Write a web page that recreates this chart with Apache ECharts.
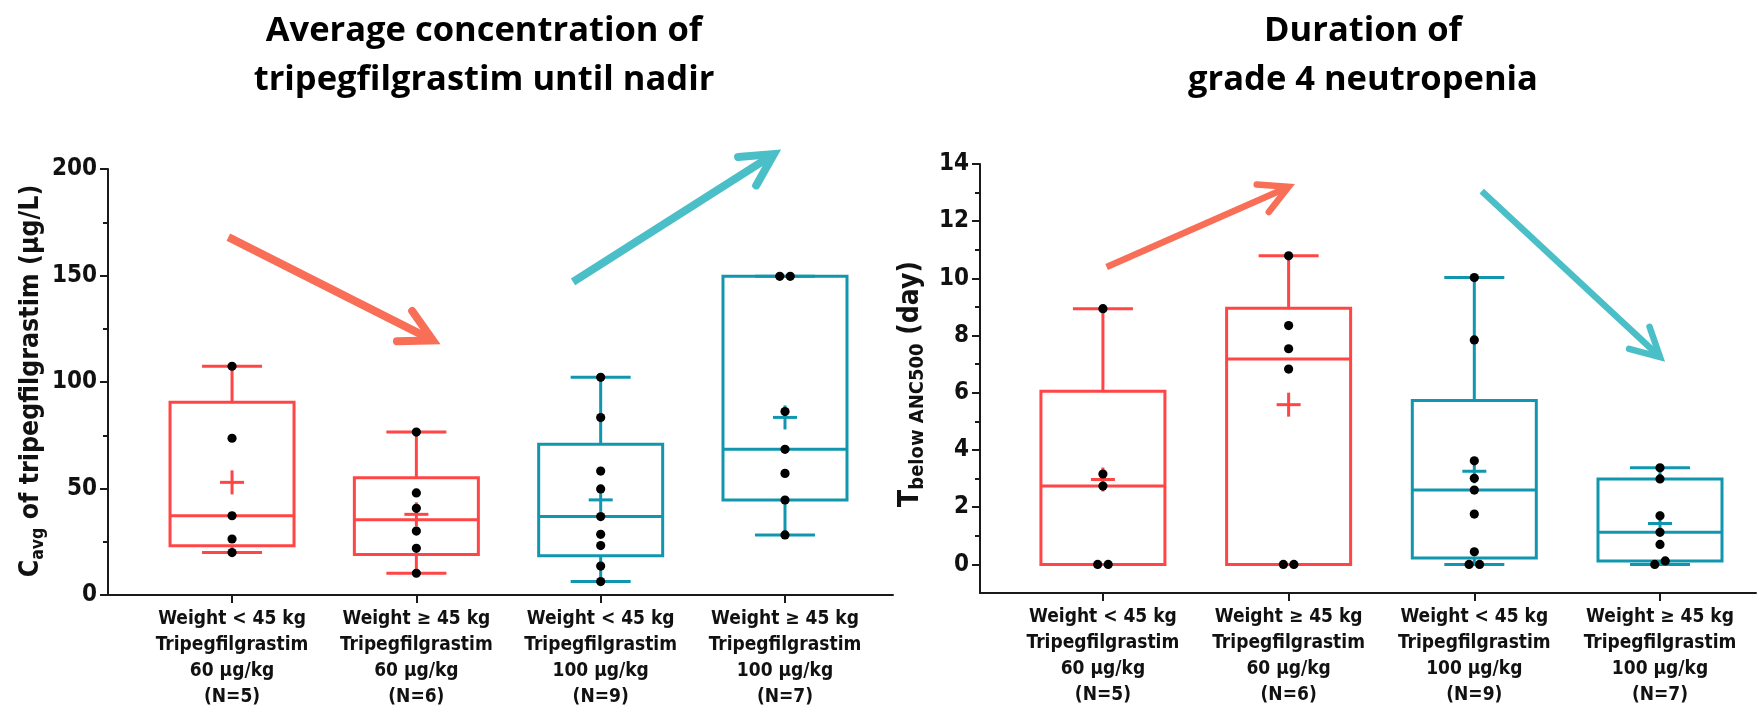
<!DOCTYPE html>
<html>
<head>
<meta charset="utf-8">
<title>Tripegfilgrastim exposure and neutropenia by weight group</title>
<script src="https://cdn.jsdelivr.net/npm/echarts@6/dist/echarts.min.js"></script>
<style>
  html, body { margin: 0; padding: 0; background: #fff; }
  #chart { width: 1763px; height: 706px; }
</style>
</head>
<body>
<div id="chart"></div>
<script>
// ---- Groups (shared by both panels) ----
const groupWeights = ['Weight < 45 kg', 'Weight \u2265 45 kg', 'Weight < 45 kg', 'Weight \u2265 45 kg'];
const groupDrug = 'Tripegfilgrastim';
const groupDoses = ['60 \u03bcg/kg', '60 \u03bcg/kg', '100 \u03bcg/kg', '100 \u03bcg/kg'];
const groupColors = ['#FF4545', '#FF4545', '#1097AF', '#1097AF'];

// ---- Panel A: average concentration until nadir, Cavg (μg/L), one value per patient ----
const cavg60Light = [107.4, 73.6, 37.2, 26.3, 19.9];
const cavg60Heavy = [76.5, 47.9, 40.7, 30.0, 21.9, 10.2];
const cavg100Light = [102.2, 83.3, 58.2, 49.8, 36.8, 28.5, 23.2, 13.6, 6.3];
const cavg100Heavy = [149.6, 149.6, 86.1, 68.4, 57.1, 44.6, 28.2];
const cavgTicks = [0, 50, 100, 150, 200];

// ---- Panel B: duration of grade 4 neutropenia, T below ANC500 (day) ----
const dur60Light = [8.94, 3.16, 2.74, 0, 0];
const dur60Heavy = [10.79, 8.35, 7.54, 6.83, 0, 0];
const dur100Light = [10.03, 7.85, 3.62, 3.01, 2.60, 1.76, 0.44, 0, 0];
const dur100Heavy = [3.38, 2.99, 1.70, 1.12, 0.70, 0.12, 0];
const durTicks = [0, 2, 4, 6, 8, 10, 12, 14];
const durMinorTicks = [1, 3, 5, 7, 9, 11, 13];

// Trend arrows, endpoints in each panel's data space [group position, value]
const cavgArrows = [
  { from: [-0.02, 168], to: [1.09, 119.5], color: '#F86E57' },
  { from: [1.85, 147], to: [2.94, 207], color: '#4BBFC8' }
];
const durArrows = [
  { from: [0.02, 10.4], to: [1.0, 13.2], color: '#F86E57' },
  { from: [2.04, 13.05], to: [3.0, 7.25], color: '#4BBFC8' }
];

const cavgGroups = [cavg60Light, cavg60Heavy, cavg100Light, cavg100Heavy];
const durGroups = [dur60Light, dur60Heavy, dur100Light, dur100Heavy];

const AXIS_FONT = '"DejaVu Sans Condensed", "DejaVu Sans", "Liberation Sans", sans-serif';
const TITLE_FONT = '"Open Sans", Lato, "Noto Sans", sans-serif';

// Quartile with (n+1)p positioning and linear interpolation
function quantile(sorted, p) {
  const n = sorted.length;
  const pos = p * (n + 1);
  if (pos <= 1) return sorted[0];
  if (pos >= n) return sorted[n - 1];
  const lo = Math.floor(pos);
  const frac = pos - lo;
  return sorted[lo - 1] + frac * (sorted[lo] - sorted[lo - 1]);
}

function boxStats(groups) {
  return groups.map((vals, i) => {
    const s = vals.slice().sort((a, b) => a - b);
    const mean = s.reduce((a, b) => a + b, 0) / s.length;
    return [i, s[0], quantile(s, 0.25), quantile(s, 0.5), quantile(s, 0.75), s[s.length - 1], mean];
  });
}

// Points with equal (overlapping) values are spread side by side
function dotItems(groups, tol) {
  const items = [];
  groups.forEach((vals, i) => {
    const s = vals.slice().sort((a, b) => a - b);
    let k = 0;
    while (k < s.length) {
      let j = k;
      while (j + 1 < s.length && s[j + 1] - s[k] < tol) j++;
      const count = j - k + 1;
      for (let m = k; m <= j; m++) items.push([i, s[m], m - k, count]);
      k = j + 1;
    }
  });
  return items;
}

function renderBox(params, api) {
  const i = api.value(0);
  const color = groupColors[i];
  const x = api.coord([i, api.value(3)])[0];
  const py = v => api.coord([i, v])[1];
  const yMin = py(api.value(1)), yQ1 = py(api.value(2)), yMed = py(api.value(3));
  const yQ3 = py(api.value(4)), yMax = py(api.value(5)), yMean = py(api.value(6));
  const hw = 62, cap = 30, cross = 12;
  const st = { stroke: color, lineWidth: 3, fill: 'none' };
  const line = (x1, y1, x2, y2) => ({ type: 'line', shape: { x1, y1, x2, y2 }, style: st });
  return {
    type: 'group',
    children: [
      line(x, yQ3, x, yMax),
      line(x - cap, yMax, x + cap, yMax),
      line(x, yQ1, x, yMin),
      line(x - cap, yMin, x + cap, yMin),
      { type: 'rect', shape: { x: x - hw, y: yQ3, width: 2 * hw, height: yQ1 - yQ3 }, style: st },
      line(x - hw, yMed, x + hw, yMed),
      line(x - cross, yMean, x + cross, yMean),
      line(x, yMean - cross, x, yMean + cross)
    ]
  };
}

function renderDot(params, api) {
  const c = api.coord([api.value(0), api.value(1)]);
  const slot = api.value(2), count = api.value(3);
  const dx = (slot - (count - 1) / 2) * 10.5;
  return { type: 'circle', shape: { cx: c[0] + dx, cy: c[1], r: 4.6 }, style: { fill: '#000' } };
}

function categoryLabel(v, groups) {
  const i = Math.round(v);
  return groupWeights[i] + '\n' + groupDrug + '\n' + groupDoses[i] + '\n(N=' + groups[i].length + ')';
}

const axisLineStyle = { color: '#1a1a1a', width: 2 };

function xAxisFor(gridIndex, min, max, groups) {
  return {
    type: 'value', gridIndex, min, max,
    axisLine: { show: true, onZero: false, lineStyle: axisLineStyle },
    axisTick: { show: true, customValues: [0, 1, 2, 3], length: 8, lineStyle: axisLineStyle },
    axisLabel: {
      customValues: [0, 1, 2, 3],
      formatter: v => categoryLabel(v, groups),
      fontFamily: AXIS_FONT, fontWeight: 'bold', fontSize: 19, lineHeight: 26,
      color: '#111', margin: 11
    },
    splitLine: { show: false }
  };
}

const tickLabel = { fontFamily: AXIS_FONT, fontWeight: 'bold', fontSize: 24, color: '#111', margin: 11 };

const option = {
  animation: false,
  backgroundColor: '#fff',
  grid: [
    { left: 108, right: 870, top: 169, bottom: 111, containLabel: false, outerBoundsMode: 'none' },
    { left: 980, right: 7, top: 164, bottom: 113, containLabel: false, outerBoundsMode: 'none' }
  ],
  xAxis: [
    xAxisFor(0, -0.673, 3.586, cavgGroups),
    xAxisFor(1, -0.662, 3.517, durGroups)
  ],
  yAxis: [
    {
      type: 'value', gridIndex: 0, position: 'left', min: 0, max: 200, interval: 50,
      axisLine: { show: true, onZero: false, lineStyle: axisLineStyle },
      axisTick: { show: true, length: 8, lineStyle: axisLineStyle },
      minorTick: { show: true, splitNumber: 2, length: 5, lineStyle: axisLineStyle },
      axisLabel: Object.assign({ customValues: cavgTicks }, tickLabel),
      splitLine: { show: false }
    },
    {
      type: 'value', gridIndex: 1, position: 'left', min: -1, max: 14,
      axisLine: { show: true, onZero: false, lineStyle: axisLineStyle },
      axisTick: { show: true, customValues: durTicks, length: 8, lineStyle: axisLineStyle },
      axisLabel: Object.assign({ customValues: durTicks }, tickLabel),
      splitLine: { show: false }
    },
    {
      // minor ticks for the duration axis
      type: 'value', gridIndex: 1, position: 'left', min: -1, max: 14,
      axisLine: { show: false, onZero: false },
      axisTick: { show: true, customValues: durMinorTicks, length: 5, lineStyle: axisLineStyle },
      axisLabel: { show: false },
      splitLine: { show: false }
    }
  ],
  series: [
    {
      type: 'custom', xAxisIndex: 0, yAxisIndex: 0, renderItem: renderBox,
      encode: { x: 0, y: [1, 2, 3, 4, 5, 6] }, data: boxStats(cavgGroups), clip: false, z: 2
    },
    {
      type: 'custom', xAxisIndex: 0, yAxisIndex: 0, renderItem: renderDot,
      encode: { x: 0, y: 1 }, data: dotItems(cavgGroups, 4), clip: false, z: 3
    },
    {
      type: 'custom', xAxisIndex: 1, yAxisIndex: 1, renderItem: renderBox,
      encode: { x: 0, y: [1, 2, 3, 4, 5, 6] }, data: boxStats(durGroups), clip: false, z: 2
    },
    {
      type: 'custom', xAxisIndex: 1, yAxisIndex: 1, renderItem: renderDot,
      encode: { x: 0, y: 1 }, data: dotItems(durGroups, 0.3), clip: false, z: 3
    }
  ]
};

const chart = echarts.init(document.getElementById('chart'), null, { renderer: 'canvas' });
chart.setOption(option);

// Open-headed arrow: straight shaft plus a chevron at the tip
function arrowElements(a, gridIndex, width, headLen) {
  const p0 = chart.convertToPixel({ gridIndex }, a.from);
  const p1 = chart.convertToPixel({ gridIndex }, a.to);
  const ang = Math.atan2(p1[1] - p0[1], p1[0] - p0[0]);
  const spread = 28 * Math.PI / 180;
  const arm = d => [p1[0] - headLen * Math.cos(ang + d), p1[1] - headLen * Math.sin(ang + d)];
  const back = [p1[0] - width * 0.7 * Math.cos(ang), p1[1] - width * 0.7 * Math.sin(ang)];
  return [
    { type: 'line', shape: { x1: p0[0], y1: p0[1], x2: back[0], y2: back[1] },
      style: { stroke: a.color, lineWidth: width, lineCap: 'butt' }, z: 10 },
    { type: 'polyline', shape: { points: [arm(-spread), p1, arm(spread)] },
      style: { stroke: a.color, lineWidth: width, lineCap: 'round', lineJoin: 'miter', fill: 'none' }, z: 10 }
  ];
}

const titleStyle = {
  fontFamily: TITLE_FONT, fontWeight: 'bold', fontSize: 34.5, lineHeight: 49,
  fill: '#000', align: 'center', verticalAlign: 'top'
};

const graphics = [
  { type: 'text', x: 484, y: 7, style: Object.assign({ text: 'Average concentration of\ntripegfilgrastim until nadir' }, titleStyle) },
  { type: 'text', x: 1363, y: 7, style: Object.assign({ text: 'Duration of\ngrade 4 neutropenia' }, titleStyle) },
  {
    type: 'text', x: 31, y: 381, rotation: Math.PI / 2,
    style: {
      text: '{m|C}{s|avg}{m| of tripegfilgrastim (\u03bcg/L)}',
      align: 'center', verticalAlign: 'middle',
      rich: {
        m: { fontFamily: AXIS_FONT, fontWeight: 'bold', fontSize: 26.5, lineHeight: 32, fill: '#111' },
        s: { fontFamily: AXIS_FONT, fontWeight: 'bold', fontSize: 17.5, lineHeight: 18, verticalAlign: 'bottom', fill: '#111' }
      }
    }
  },
  {
    type: 'text', x: 911, y: 384, rotation: Math.PI / 2,
    style: {
      text: '{m|T}{s|below ANC500}{m| (day)}',
      align: 'center', verticalAlign: 'middle',
      rich: {
        m: { fontFamily: AXIS_FONT, fontWeight: 'bold', fontSize: 28, lineHeight: 33, fill: '#111' },
        s: { fontFamily: AXIS_FONT, fontWeight: 'bold', fontSize: 20, lineHeight: 20, verticalAlign: 'bottom', fill: '#111' }
      }
    }
  }
];
cavgArrows.forEach(a => graphics.push(...arrowElements(a, 0, 8, 36)));
durArrows.forEach(a => graphics.push(...arrowElements(a, 1, 6.5, 32)));

chart.setOption({ graphic: graphics });
</script>
</body>
</html>
